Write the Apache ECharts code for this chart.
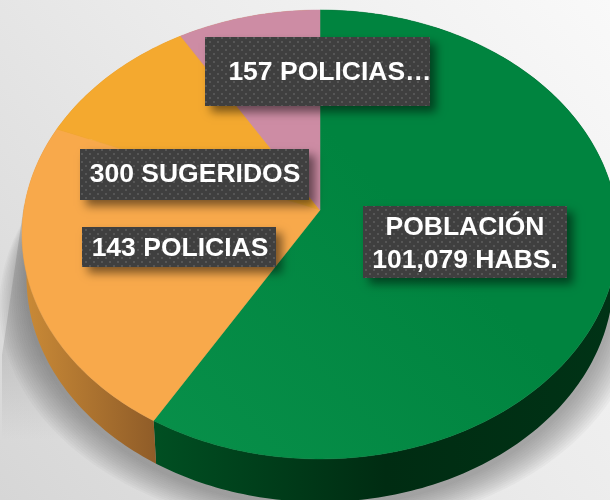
<!DOCTYPE html>
<html><head><meta charset="utf-8">
<style>html,body{margin:0;padding:0;background:#eee}#c{width:610px;height:500px}</style>
<script src="https://cdn.jsdelivr.net/npm/echarts@6/dist/echarts.min.js"></script>
</head><body><div id="c"></div>
<script>
// ---- data (clockwise from 12 o'clock) ----
const categories = ['POBLACIÓN', '143 POLICIAS', '300 SUGERIDOS', '157 POLICIAS'];
const shares = [58.5, 22.7, 10.2, 8.6];
const labelTexts = [['POBLACIÓN', '101,079 HABS.'], ['143 POLICIAS'], ['300 SUGERIDOS'], ['157 POLICIAS…']];
// ---- style ----
const topColors = [
  ['#08904a', '#00843f'], ['#f8a94b', '#f8a94b'], ['#f4a92f', '#f4a92f'], ['#cd8ca4', '#cd8ca4']
];
const wallColors = [['#004f22', '#002c12', '#003316'], ['#cb8b37', '#8f5c28'], ['#cb8b37', '#cb8b37'], ['#cb8b37', '#cb8b37']];
const labelBoxes = [[363, 206, 204, 72], [82, 227, 194, 40], [80, 149, 229, 51], [205, 37, 225, 69]];
const labelCenters = [[465, 244], [180, 249], [195, 175], [330, 73]];
const LINE_H = 33;
// ---- perspective disc ----
const view = { cx: 320, cy: 210, A: 296.2, B: 221.8, k: 0.109 };
const wall = { dy: 43, sx: 0.985 };
const total = shares.reduce((a, b) => a + b, 0);
function project(frac, dy, sx) {
  const th = frac * Math.PI * 2;
  const X = Math.sin(th), Z = Math.cos(th), w = 1 + view.k * Z;
  return [view.cx + sx * view.A * X / w, view.cy + dy - view.B * Z / w];
}
function arc(f0, f1, dy, sx) {
  const n = Math.max(2, Math.ceil((f1 - f0) * 360));
  const pts = [];
  for (let i = 0; i <= n; i++) pts.push(project(f0 + (f1 - f0) * i / n, dy, sx));
  return pts;
}
function startOf(i) { let s = 0; for (let j = 0; j < i; j++) s += shares[j]; return s / total; }
function grad(cols) {
  return new echarts.graphic.LinearGradient(0, 0, 1, 0, cols.map((c, i) => ({ offset: i / (cols.length - 1), color: c })));
}
const dots = document.createElement('canvas');
dots.width = 8; dots.height = 8;
(function () {
  const g = dots.getContext('2d');
  g.fillStyle = '#3f3f3f'; g.fillRect(0, 0, 8, 8);
  g.fillStyle = '#565656'; g.fillRect(1, 1, 2, 2); g.fillRect(5, 5, 2, 2);
})();

const chart = echarts.init(document.getElementById('c'), null, { renderer: 'canvas' });
const idx = shares.map((v, i) => [i, v]);
chart.setOption({
  animation: false,
  backgroundColor: new echarts.graphic.LinearGradient(1, 0, 0, 1, [
    { offset: 0, color: '#f9f9f9' }, { offset: 0.45, color: '#ebebeb' }, { offset: 1, color: '#d6d6d6' }
  ]),
  series: [
    { // cast shadow
      type: 'custom', coordinateSystem: 'none', silent: true, z: 1,
      data: [[0]],
      renderItem: function () {
        const kids = [
          { type: 'polygon', shape: { points: [[24, 205], [70, 205], [120, 440], [2, 440], [2, 355]] },
            style: { fill: new echarts.graphic.LinearGradient(0, 0, 0, 1, [
              { offset: 0, color: 'rgba(150,150,150,0.45)' }, { offset: 0.6, color: 'rgba(150,150,150,0.35)' },
              { offset: 1, color: 'rgba(150,150,150,0)' }]) } }
        ];
        const layers = 14;
        for (let l = layers; l >= 1; l--) {
          const t = l / layers;
          kids.push({ type: 'polygon', shape: { points: arc(0, 1, wall.dy + 4 + 24 * t, wall.sx + 0.09 * t) },
            style: { fill: 'rgba(90,90,90,0.045)' } });
        }
        return { type: 'group', children: kids };
      }
    },
    { // side wall
      type: 'custom', coordinateSystem: 'none', silent: true, z: 2,
      data: idx,
      renderItem: function (p, api) {
        const i = api.value(0);
        const f0 = startOf(i), f1 = f0 + api.value(1) / total;
        const a = arc(f0, f1, 0, 1), b = arc(f0, f1, wall.dy, wall.sx).reverse();
        return { type: 'polygon', shape: { points: a.concat(b) }, style: { fill: grad(wallColors[i]) } };
      }
    },
    { // top face
      type: 'custom', coordinateSystem: 'none', z: 3,
      data: idx,
      renderItem: function (p, api) {
        const i = api.value(0);
        const f0 = startOf(i), f1 = f0 + api.value(1) / total;
        return { type: 'polygon',
          shape: { points: [[view.cx, view.cy]].concat(arc(f0, f1, 0, 1)) },
          style: { fill: new echarts.graphic.LinearGradient(0, 1, 1, 0, [
            { offset: 0, color: topColors[i][0] }, { offset: 0.55, color: topColors[i][1] }, { offset: 1, color: topColors[i][1] }]),
            stroke: topColors[i][1], lineWidth: 0.5 } };
      }
    },
    { // labels
      type: 'custom', coordinateSystem: 'none', z: 4,
      data: idx,
      renderItem: function (p, api) {
        const i = api.value(0), r = labelBoxes[i], c = labelCenters[i], lines = labelTexts[i];
        const kids = [{ type: 'rect', shape: { x: r[0], y: r[1], width: r[2], height: r[3] },
          style: { fill: '#3f3f3f', shadowBlur: 9, shadowOffsetX: 6, shadowOffsetY: 6, shadowColor: 'rgba(0,0,0,0.5)' } },
          { type: 'rect', shape: { x: r[0], y: r[1], width: r[2], height: r[3] },
            style: { fill: { image: dots, repeat: 'repeat' } } }];
        lines.forEach(function (t, n) {
          kids.push({ type: 'text', style: {
            text: t, x: c[0], y: c[1] + (n - (lines.length - 1) / 2) * LINE_H,
            align: 'center', verticalAlign: 'middle', fill: '#fff',
            font: 'bold 26.5px "Liberation Sans", Arial, sans-serif' } });
        });
        return { type: 'group', children: kids };
      }
    }
  ]
});
</script></body></html>
